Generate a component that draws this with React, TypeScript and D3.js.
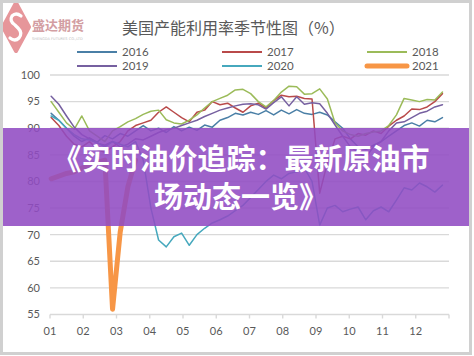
import React from "react";
import * as d3 from "d3";

const months = ["01", "02", "03", "04", "05", "06", "07", "08", "09", "10", "11", "12"];
const yTicks = [55, 60, 65, 70, 75, 80, 85, 90, 95, 100];
const years = ["2016", "2017", "2018", "2019", "2020", "2021"];

const v2016 = [92.8, 91.5, 90, 88.5, 87.5, 88.2, 87.4, 88.6, 88, 89, 88.5, 89.5, 90.5, 89.5, 90, 89.2, 90.3, 89.5, 90.2, 89.6, 90.6, 90.2, 91.5, 92, 92.8, 92.5, 93, 92.6, 93.3, 92.5, 93.4, 92.7, 93.5, 92.8, 92.6, 93, 92.5, 91.2, 90, 88, 86.5, 86, 86.8, 87.5, 88.5, 89.5, 90.5, 91, 90.4, 91.5, 91.2, 92];
const v2017 = [92, 90.5, 88.5, 87, 86.5, 87.5, 86, 85.5, 86.5, 87.5, 89.5, 90.5, 91, 91.5, 93, 94, 93, 92, 91.2, 93, 93.4, 95, 94.4, 94.7, 93.8, 93, 94.2, 94.7, 93.8, 95.2, 96.2, 95.9, 96, 95.6, 95.5, 77.8, 83.5, 88, 88.5, 88, 89, 88.7, 89.5, 89, 90.4, 91.5, 92.3, 93.6, 93.5, 94, 95, 96.5];
const v2018 = [95, 93, 91, 89.8, 92.3, 89.5, 88.5, 87.5, 89.5, 90.3, 91.2, 91.8, 92.6, 93.2, 93.4, 91.6, 91, 90.8, 91.5, 92.5, 93.8, 95, 95.6, 96.2, 97.2, 97.3, 96.5, 95, 94, 95.2, 96.8, 97.9, 97.8, 96.4, 96.5, 97.4, 95.5, 91, 89.5, 88.8, 88.5, 89, 89.3, 89.5, 90.5, 92.5, 95.6, 95.3, 95, 95.4, 95.3, 96.8];
const v2019 = [96, 94.5, 92.3, 90.2, 88.8, 88, 87.2, 86.8, 87.5, 86.5, 87, 88, 87.8, 88.5, 89.2, 89.7, 90, 90.5, 91, 91.5, 92.2, 92.8, 93.4, 93.8, 94.2, 94.5, 94.6, 94.4, 93.6, 94.8, 95.9, 94.2, 95.9, 94.5, 94.8, 94.6, 92.8, 90.6, 88.5, 86.5, 85.5, 84.5, 86.5, 87.5, 89.5, 91, 91.2, 92, 92.8, 93.2, 94, 94.4];
const v2020 = [92.3, 91.5, 90, 88.8, 88, 87.8, 87.3, 86.5, 87.5, 87, 86.5, 87.5, 84, 75, 69, 67.7, 69.6, 70.3, 68, 70, 71.2, 72.2, 72.8, 73.5, 74.5, 75.5, 77, 78.5, 80, 81.2, 80.5, 81.5, 81.8, 82.5, 80, 71.8, 75, 75.5, 74.3, 74.8, 75.2, 72.8, 74.5, 75.2, 74.3, 76.5, 78.8, 78.4, 79.7, 79, 78, 79.3];
const v2021 = [80.5, 81, 81.5, 81.8, 82.5, 83, 83.6, 84, 56, 70.5, 79, 84];

const seriesValues = [v2016, v2017, v2018, v2019, v2020, v2021];
const colors = ["#4a7fa6", "#b94a4a", "#9bbb59", "#7660a0", "#46a8bd", "#f79646"];
const widths = [1.5, 1.5, 1.5, 1.5, 1.5, 5];

const bannerLine1 = "《实时油价追踪：最新原油市";
const bannerLine2 = "场动态一览》";
const titleText = "美国产能利用率季节性图（%）";

export default function App() {
  const W = 474;
  const H = 356;
  const left = 50;
  const right = 449;
  const top = 75;
  const bottom = 314.5;

  const x = d3.scaleLinear().domain([0, 52]).range([left, right]);
  const xm = d3.scaleLinear().domain([0, 12]).range([left, right]);
  const y = d3.scaleLinear().domain([55, 100]).range([bottom, top]);

  const line = d3
    .line<number>()
    .x((_, i) => x(i + 0.15))
    .y((d) => y(d));

  const legendPos = [
    { lx: 77, ly: 52 },
    { lx: 222, ly: 52 },
    { lx: 367, ly: 52 },
    { lx: 77, ly: 66 },
    { lx: 222, ly: 66 },
    { lx: 367, ly: 66 },
  ];

  const numFont = "Lato, 'Liberation Sans', sans-serif";
  const cjkFont = "'Noto Sans CJK SC', sans-serif";

  return (
    <svg
      width={W}
      height={H}
      style={{ position: "absolute", left: 0, top: 0, background: "#fff" }}
    >
      <rect x={0} y={0} width={W} height={H} fill="#fff" />

      {/* gridlines */}
      {yTicks.map((t) => (
        <g key={t}>
          <line
            x1={left}
            x2={right}
            y1={y(t)}
            y2={y(t)}
            stroke="#d9d9d9"
            strokeWidth={1.4}
          />
          <text
            x={40}
            y={y(t)}
            dy="0.35em"
            textAnchor="end"
            fontFamily={numFont}
            fontSize={11}
            fill="#595959"
          >
            {t}
          </text>
        </g>
      ))}

      {/* x axis ticks */}
      {d3.range(13).map((m) => (
        <line
          key={"tk" + m}
          x1={xm(m)}
          x2={xm(m)}
          y1={bottom}
          y2={bottom + 4}
          stroke="#d9d9d9"
          strokeWidth={1.4}
        />
      ))}
      {months.map((m, i) => (
        <text
          key={m}
          x={xm(i)}
          y={331}
          dy="0.35em"
          textAnchor="middle"
          fontFamily={numFont}
          fontSize={11}
          fill="#595959"
        >
          {m}
        </text>
      ))}

      {/* series */}
      {seriesValues.map((vals, k) => (
        <path
          key={years[k]}
          d={line(vals) || ""}
          fill="none"
          stroke={colors[k]}
          strokeWidth={widths[k]}
          strokeLinejoin="round"
          strokeLinecap="round"
        />
      ))}

      {/* legend */}
      {years.map((yr, k) => (
        <g key={"lg" + yr}>
          <line
            x1={legendPos[k].lx}
            x2={legendPos[k].lx + 40}
            y1={legendPos[k].ly}
            y2={legendPos[k].ly}
            stroke={colors[k]}
            strokeWidth={k === 5 ? 5 : 2}
            strokeLinecap={k === 5 ? "round" : "butt"}
          />
          <text
            x={legendPos[k].lx + 45}
            y={legendPos[k].ly}
            dy="0.35em"
            fontFamily={numFont}
            fontSize={11.5}
            fill="#595959"
          >
            {yr}
          </text>
        </g>
      ))}

      {/* title */}
      <text
        x={122}
        y={34}
        fontFamily={cjkFont}
        fontSize={16}
        fill="#595959"
      >
        {titleText}
      </text>

      {/* logo */}
      <g opacity={0.8}>
        <path
          d="M16,3 L29,27 L16,51 L3,27 Z"
          fill="#e07c82"
          stroke="#e07c82"
          strokeWidth={4}
          strokeLinejoin="round"
        />
        <path
          d="M21,16 Q16,12 12,16 Q9,21 15,25 L18,28 Q23,33 19,38 Q15,42 10,38"
          fill="none"
          stroke="#fff"
          strokeWidth={3.2}
          strokeLinecap="round"
        />
        <text
          x={32}
          y={30}
          fontFamily={cjkFont}
          fontWeight={700}
          fontSize={13}
          fill="#c9878c"
        >
          盛达期货
        </text>
        <text
          x={32}
          y={40}
          fontFamily="'DejaVu Sans', sans-serif"
          fontSize={3.6}
          fill="#b0b0b0"
        >
          SHENGDA FUTURES CO.,LTD
        </text>
      </g>

      {/* banner */}
      <rect x={0} y={128} width={470} height={98} fill="rgb(145,75,195)" opacity={0.88} />
      <text
        x={241}
        y={170}
        textAnchor="middle"
        fontFamily={cjkFont}
        fontWeight={700}
        fontSize={29}
        fill="#fff"
      >
        {bannerLine1}
      </text>
      <text
        x={241}
        y={208}
        textAnchor="middle"
        fontFamily={cjkFont}
        fontWeight={700}
        fontSize={29}
        fill="#fff"
      >
        {bannerLine2}
      </text>

      {/* frame */}
      <rect
        x={1.5}
        y={1.5}
        width={469}
        height={352}
        fill="none"
        stroke="#d0d0d0"
        strokeWidth={3}
      />
    </svg>
  );
}
